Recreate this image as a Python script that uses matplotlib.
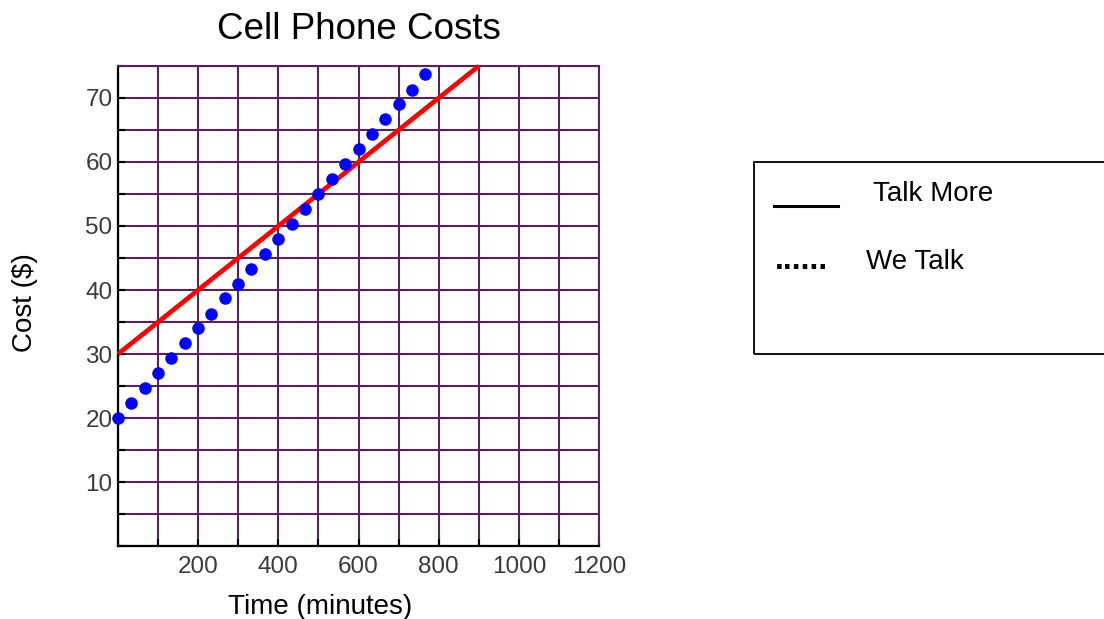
"""Cell phone plan costs: Talk More vs We Talk."""

import matplotlib

matplotlib.use("Agg")
import matplotlib.pyplot as plt
from matplotlib.lines import Line2D
from matplotlib.patches import Rectangle

plt.rcParams["font.family"] = ["Liberation Sans", "DejaVu Sans"]

# Talk More: straight line, read at its two ends
talk_more_minutes = [0, 900]
talk_more_cost = [30, 75]

# We Talk: dotted series, read dot by dot
we_talk_minutes = [0, 33, 67, 100, 133, 167, 200, 233, 267, 300, 333, 367,
                   400, 433, 467, 500, 533, 567, 600, 633, 667, 700, 733, 767]
we_talk_cost = [20.0, 22.3, 24.7, 27.0, 29.3, 31.7, 34.0, 36.3, 38.7, 41.0,
                43.3, 45.7, 48.0, 50.3, 52.7, 55.0, 57.3, 59.7, 62.0, 64.3,
                66.7, 69.0, 71.3, 73.7]

x_grid = list(range(0, 1201, 100))
x_labels = ["", "", "200", "", "400", "", "600", "", "800", "", "1000", "", "1200"]
y_grid = list(range(0, 76, 5))
y_labels = ["", "", "10", "", "20", "", "30", "", "40", "", "50", "", "60", "", "70", ""]

GRID = "#57215c"

fig = plt.figure(figsize=(11.04, 6.19), dpi=100)
ax = fig.add_axes([0.1069, 0.1179, 0.4357, 0.7755])
ax.set_xlim(0, 1200)
ax.set_ylim(0, 75)

ax.set_xticks(x_grid)
ax.set_xticklabels(x_labels)
ax.set_yticks(y_grid)
ax.set_yticklabels(y_labels)
ax.grid(True, color=GRID, linewidth=1.5)
ax.set_axisbelow(True)
ax.tick_params(axis="both", direction="in", length=5, width=1.5, color="black",
               labelsize=17.5, labelcolor="#3a3a3a", pad=4)
ax.tick_params(axis="x", pad=7)

for side in ("left", "bottom"):
    ax.spines[side].set_color("black")
    ax.spines[side].set_linewidth(1.6)
for side in ("top", "right"):
    ax.spines[side].set_color(GRID)
    ax.spines[side].set_linewidth(1.5)

ax.plot(talk_more_minutes, talk_more_cost, color="#ff0000", linewidth=3.4,
        solid_capstyle="butt", zorder=3, clip_on=False)
ax.plot(we_talk_minutes, we_talk_cost, linestyle="none", marker="o",
        markersize=8, color="#0000ff", zorder=4, clip_on=False)

fig.text(0.3247, 0.953, "Cell Phone Costs", fontsize=26.5, ha="center", va="center")
fig.text(0.29, 0.019, "Time (minutes)", fontsize=20, ha="center", va="center")
fig.text(0.0226, 0.512, "Cost ($)", fontsize=20, ha="center", va="center",
         rotation=90)

# hand-drawn style legend box on the right
fig.patches.append(Rectangle((0.683, 0.428), 0.33, 0.31, transform=fig.transFigure,
                             fill=False, edgecolor="black", linewidth=1.3))
fig.lines.append(Line2D([0.701, 0.759], [0.667, 0.667], transform=fig.transFigure,
                        color="black", linewidth=2.2))
fig.text(0.791, 0.675, "Talk More", fontsize=20, va="baseline")
fig.text(0.702, 0.565, "......", fontsize=23, fontweight="bold", va="baseline")
fig.text(0.784, 0.565, "We Talk", fontsize=20, va="baseline")

fig.savefig("out.png", dpi=100)
